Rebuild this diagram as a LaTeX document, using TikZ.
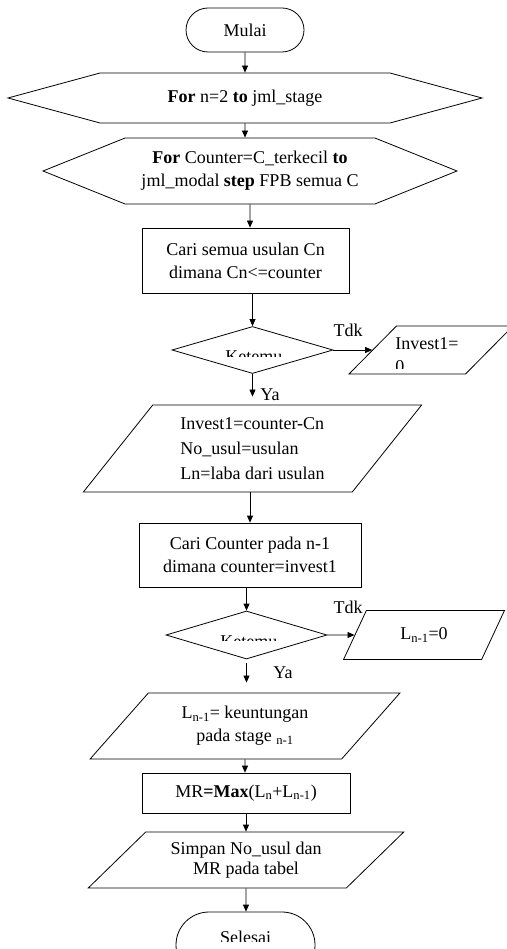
\documentclass[tikz,border=0pt]{standalone}
\usepackage{fontspec}
\setmainfont{Liberation Serif}
\usetikzlibrary{shapes.geometric, shapes.misc, shapes.symbols, arrows.meta, positioning}

\begin{document}
\begin{tikzpicture}[x=1pt, y=-1pt, line width=0.8pt,
      every node/.style={font=\fontsize{18pt}{23pt}\selectfont},
      startstop/.style={draw, rounded rectangle, inner sep=1pt},
      loopbox/.style={draw, signal, signal to=east and west, inner sep=1pt, align=center},
      procbox/.style={draw, rectangle, inner sep=1pt, align=center},
      iobox/.style 2 args={draw, trapezium, trapezium left angle=#1, trapezium right angle=#2,
                    trapezium stretches=true, inner sep=1pt},
      decbox/.style={draw, diamond, inner sep=1pt},
      lbl/.style={inner sep=0pt},
      arr/.style={-{Triangle[length=7pt,width=6pt]}}
    ]
      \useasboundingbox (0,0) rectangle (506,949);

      \node[startstop, minimum width=120pt, minimum height=44pt] (start) at (245,30) {Mulai};
      \node[loopbox, signal pointer angle=30.4, minimum width=474pt, minimum height=50pt] (for1) at (245,98)
        {\textbf{For} n=2 \textbf{to} jml\_stage};
      \node[loopbox, signal pointer angle=43.8, minimum width=414pt, minimum height=66pt] (for2) at (250,171)
        {\textbf{For} Counter=C\_terkecil \textbf{to}\\jml\_modal \textbf{step} FPB semua C};
      \node[procbox, minimum width=207pt, minimum height=65pt] (cari1) at (245.5,260.5)
        {Cari semua usulan Cn\\dimana Cn<=counter};
      \node[decbox, minimum width=161pt, minimum height=47pt] (cek1) at (252.5,350) {};
      \node[iobox={55.5}{124.5}, minimum width=164pt, minimum height=48pt] (inv0) at (431,350) {};
      \node[iobox={51.6}{128.4}, minimum width=339pt, minimum height=87pt, align=left,
            font=\fontsize{18pt}{25pt}\selectfont] (par1) at (252.5,448.5)
        {Invest1=counter-Cn\\No\_usul=usulan\\Ln=laba dari usulan};
      \node[procbox, minimum width=222pt, minimum height=64pt] (cari2) at (250,555)
        {Cari Counter pada n-1\\dimana counter=invest1};
      \node[decbox, minimum width=161pt, minimum height=48pt] (cek2) at (246.5,635) {};
      \node[iobox={59.4}{120.6}, minimum width=162pt, minimum height=49pt] (ln0) at (424,635)
        {L\textsubscript{n-1}=0};
      \node[iobox={46.8}{133.2}, minimum width=310pt, minimum height=66pt, align=center] (par3) at (245,726)
        {L\textsubscript{n-1}= keuntungan\\pada stage \textsubscript{n-1}};
      \node[procbox, minimum width=208pt, minimum height=40pt] (mr) at (246,793)
        {MR\textbf{=Max}(L\textsubscript{n}+L\textsubscript{n-1})};
      \node[iobox={41.2}{138.8}, minimum width=316pt, minimum height=56pt, align=center,
            font=\fontsize{18pt}{20pt}\selectfont] (par4) at (246,860)
        {Simpan No\_usul dan\\MR pada tabel};
      \node[startstop, minimum width=141pt, minimum height=66pt] (stop) at (245.5,945) {};

      % texts cut off in the original
      \begin{scope}
        \clip (200,340) rectangle (300,356);
        \node[lbl, anchor=base west] (cek1txt) at (225,362) {Ketemu};
      \end{scope}
      \begin{scope}
        \clip (200,625) rectangle (300,640);
        \node[lbl, anchor=base west] (cek2txt) at (220,647) {Ketemu};
      \end{scope}
      \begin{scope}
        \clip (380,330) rectangle (506,368);
        \node[lbl, anchor=north west, align=left] (inv0txt) at (395,337) {Invest1=\\0};
      \end{scope}
      \begin{scope}
        \clip (180,920) rectangle (320,941);
        \node[lbl, anchor=base] (stoptxt) at (245.5,943) {Selesai};
      \end{scope}

      \node[lbl] (tdk1) at (348,330) {Tdk};
      \node[lbl] (ya1) at (270,395) {Ya};
      \node[lbl] (tdk2) at (348,607) {Tdk};
      \node[lbl] (ya2) at (283,673) {Ya};

      \draw[arr] (start) -- (for1);
      \draw[arr] (for1) -- (for1 |- for2.north);
      \draw[arr] (for2) -- (for2 |- cari1.north);
      \draw[arr] (cari1.south -| cek1) -- (cek1);
      \draw[arr] (cek1) -- (inv0);
      \draw[arr, shorten >=8pt] (cek1) -- (cek1 |- par1.north);
      \draw[arr] (par1.south -| cari2) -- (cari2);
      \draw[arr] (cari2.south -| cek2) -- (cek2);
      \draw[arr] (cek2) -- (ln0);
      \draw[arr, shorten <=4pt, shorten >=10pt] (cek2) -- (cek2 |- par3.north);
      \draw[arr] (par3) -- (par3 |- mr.north);
      \draw[arr] (mr) -- (mr |- par4.north);
      \draw[arr] (par4) -- (par4 |- stop.north);
    \end{tikzpicture}
\end{document}
